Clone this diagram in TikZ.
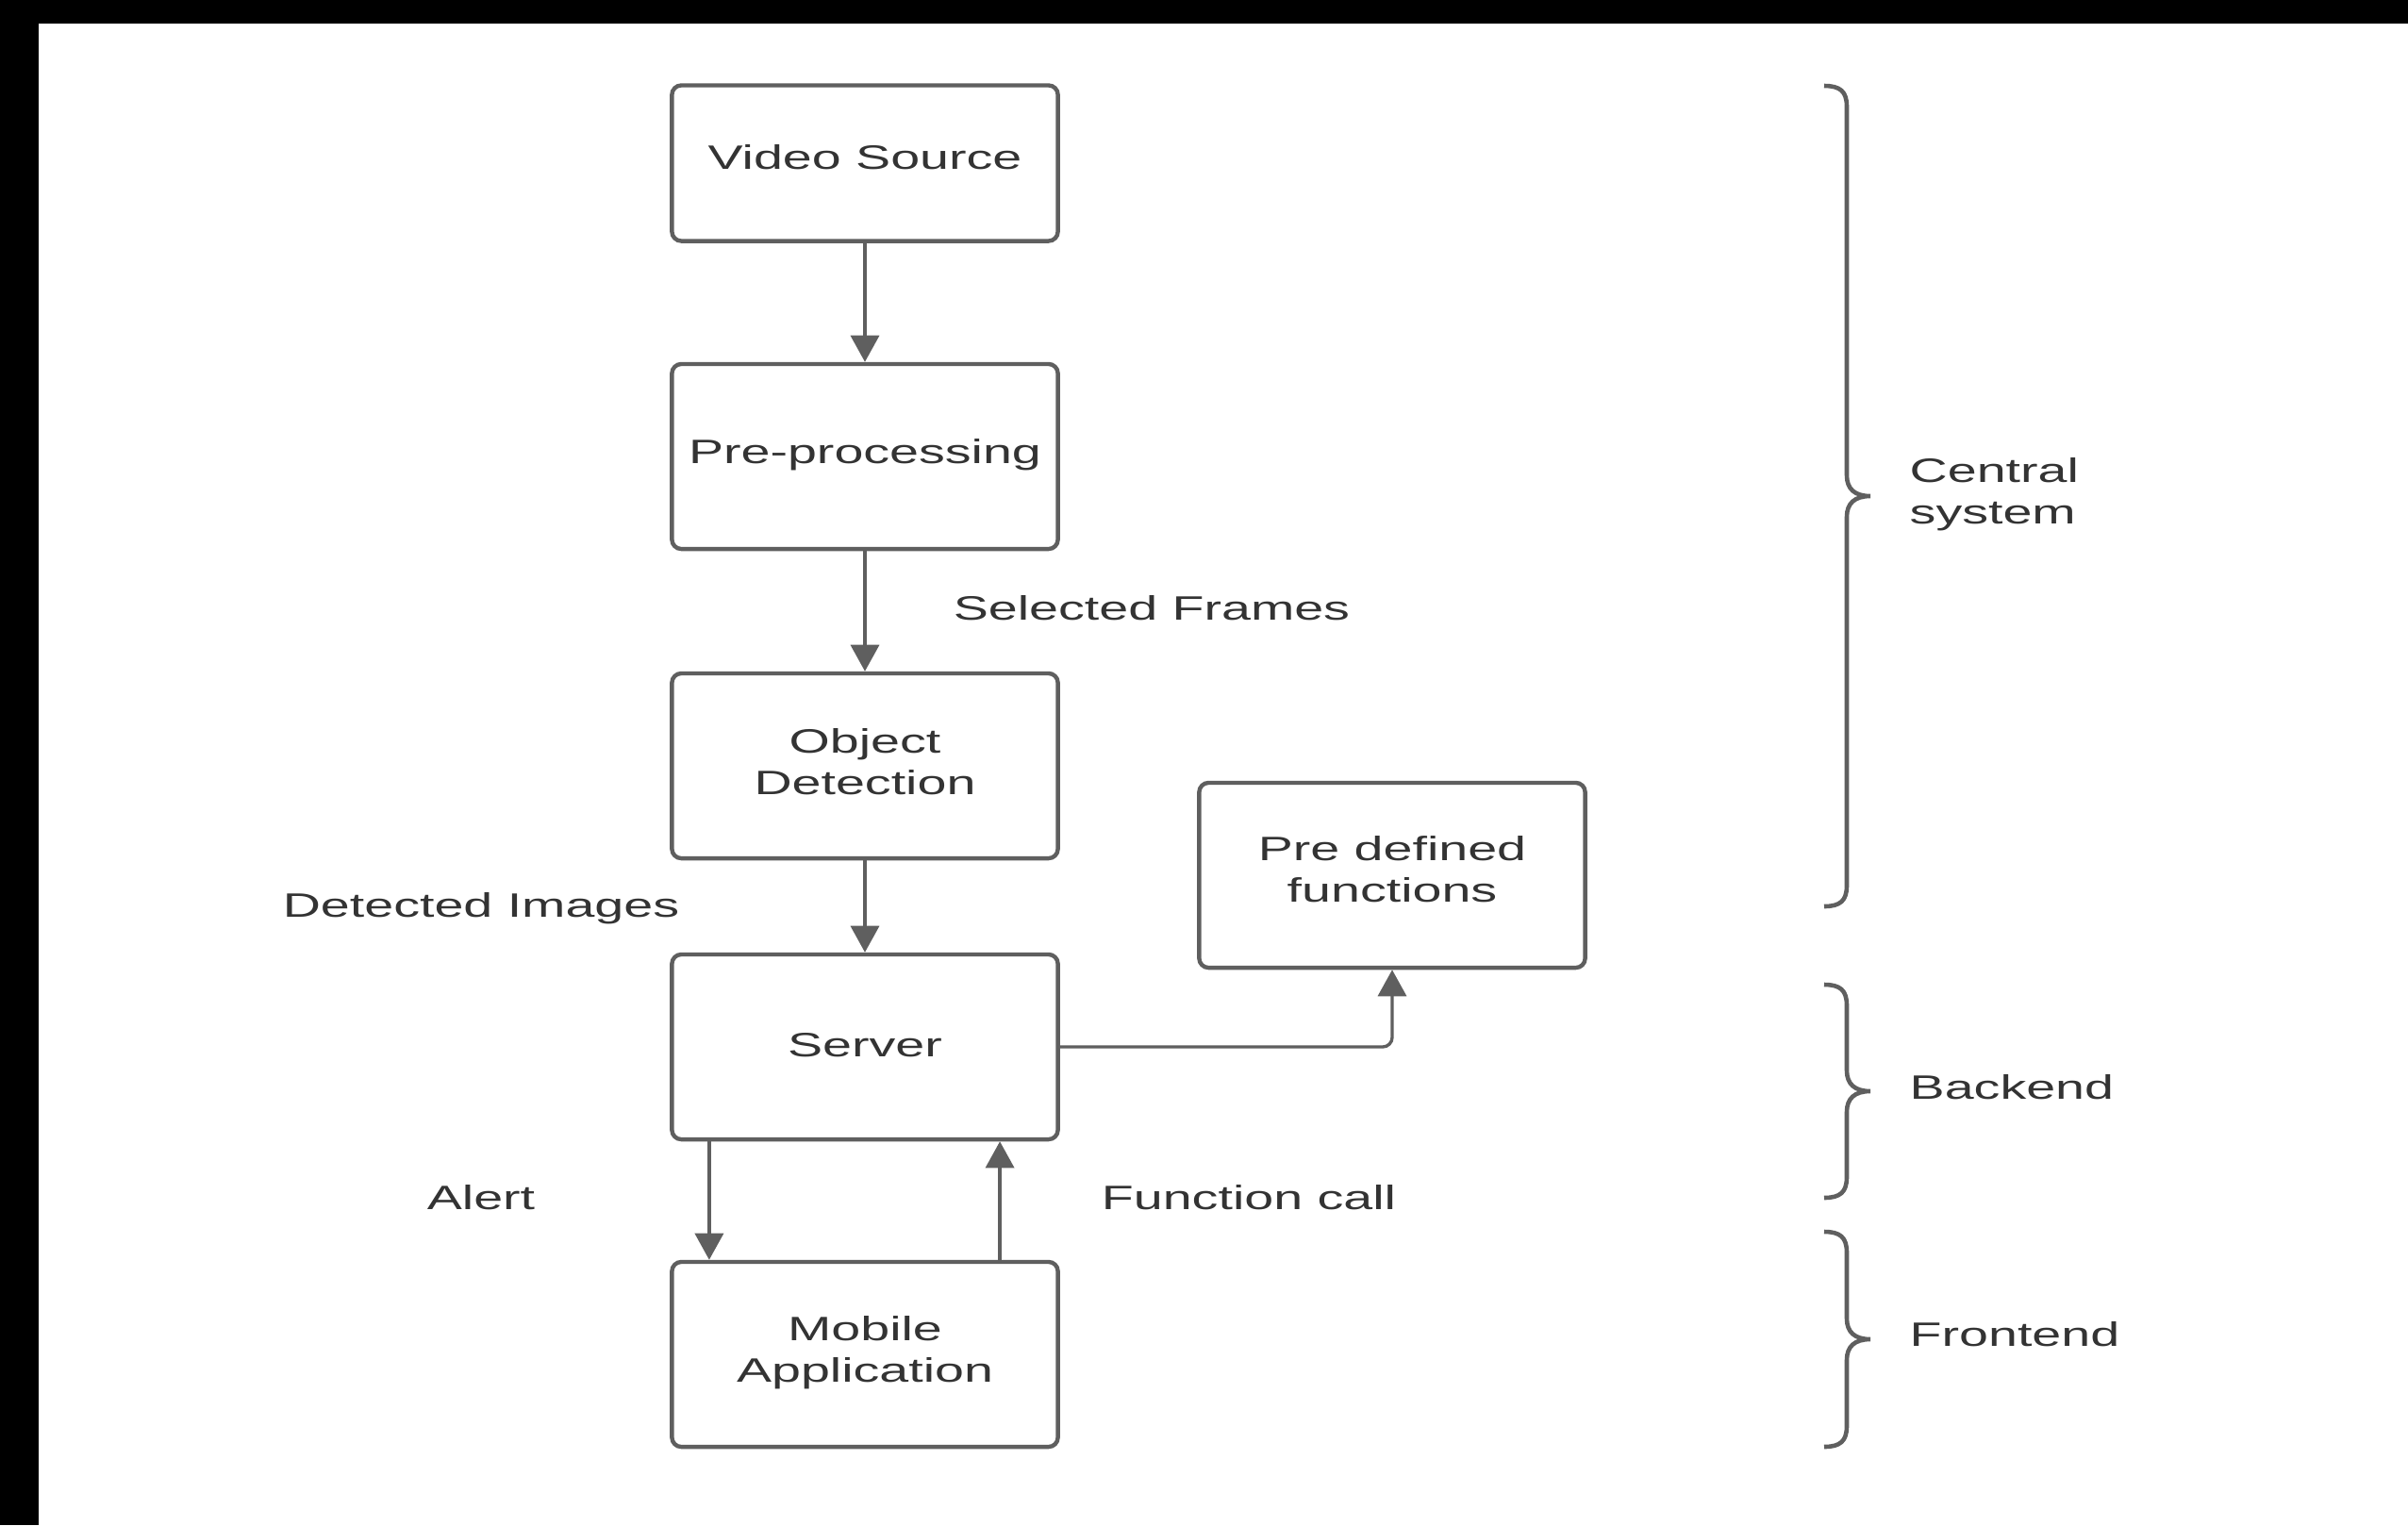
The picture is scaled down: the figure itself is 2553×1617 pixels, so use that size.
\documentclass[tikz,border=0pt]{standalone}
\usepackage{fontspec}
\setmainfont{Liberation Sans}[FakeStretch=1.55]
\usetikzlibrary{arrows.meta}
\definecolor{linegray}{HTML}{5F5F5F}
\definecolor{textgray}{HTML}{333333}
\newcommand\diagfs{\fontsize{10.2pt}{12.5pt}\selectfont}
\begin{document}
\begin{tikzpicture}[x=0.01cm,y=-0.01cm,
 box/.style={draw=linegray, line width=1.25pt, rounded corners=0.1cm, minimum width=4.09cm, minimum height=1.96cm, inner sep=0pt},
 bt/.style={text=textgray, font=\diagfs, align=center, inner sep=0pt},
 arr/.style={draw=linegray, line width=0.95pt, -{Triangle[width=0.3cm,length=0.28cm]}},
 lbl/.style={text=textgray, font=\diagfs, inner sep=0pt},
 brc/.style={draw=linegray, line width=1.3pt}]
\useasboundingbox (0,0) rectangle (2553,1617);
\fill[white] (0,0) rectangle (2553,1617);
\fill[black] (0,0) rectangle (2553,25);
\fill[black] (0,0) rectangle (41,1617);

\node[box, minimum height=1.65cm, label={[bt, yshift=0.065cm]center:Video Source}] (vs) at (917,173) {};
\node[box, label={[bt, yshift=0.015cm]center:Pre-processing}] (pp) at (917,484) {};
\node[box, label={[bt, yshift=0.045cm]center:Object\\Detection}] (od) at (917,812) {};
\node[box, label={[bt, yshift=0.015cm]center:Server}] (sv) at (917,1110) {};
\node[box, label={[bt, yshift=0.02cm]center:Mobile\\Application}] (ma) at (917,1436) {};
\node[box, label={[bt, yshift=0.065cm]center:Pre defined\\functions}] (pd) at (1476,928) {};

\draw[arr] (vs) -- (pp);
\draw[arr] (pp) -- (od);
\draw[arr] (od) -- (sv);
\draw[arr] ([xshift=-1.65cm]sv.south) -- ([xshift=-1.65cm]ma.north);
\draw[arr] ([xshift=1.43cm]ma.north) -- ([xshift=1.43cm]sv.south);
\draw[arr, rounded corners=0.1cm] (sv.east) -| (pd.south);

\node[lbl] (sf) at (1221,645) {Selected Frames};
\node[lbl] (di) at (510,963) {Detected Images};
\node[lbl] (al) at (510,1270) {Alert};
\node[lbl] (fc) at (1324,1270) {Function call};

% braces
\draw[brc] (1934,91) .. controls (1951,91) and (1958,97) .. (1958,113)
  -- (1958,504) .. controls (1958,518) and (1966,526) .. (1983,526)
  .. controls (1966,526) and (1958,534) .. (1958,548)
  -- (1958,939) .. controls (1958,955) and (1951,961) .. (1934,961);
\draw[brc] (1934,1044) .. controls (1951,1044) and (1958,1050) .. (1958,1066)
  -- (1958,1135) .. controls (1958,1149) and (1966,1157) .. (1983,1157)
  .. controls (1966,1157) and (1958,1165) .. (1958,1179)
  -- (1958,1248) .. controls (1958,1264) and (1951,1270) .. (1934,1270);
\draw[brc] (1934,1306) .. controls (1951,1306) and (1958,1312) .. (1958,1328)
  -- (1958,1398) .. controls (1958,1412) and (1966,1420) .. (1983,1420)
  .. controls (1966,1420) and (1958,1428) .. (1958,1442)
  -- (1958,1512) .. controls (1958,1528) and (1951,1534) .. (1934,1534);

\node[lbl, anchor=west, align=left] (cs) at (2024,524) {Central\\system};
\node[lbl, anchor=west] (be) at (2024,1153) {Backend};
\node[lbl, anchor=west] (fe) at (2024,1415) {Frontend};
\end{tikzpicture}
\end{document}
